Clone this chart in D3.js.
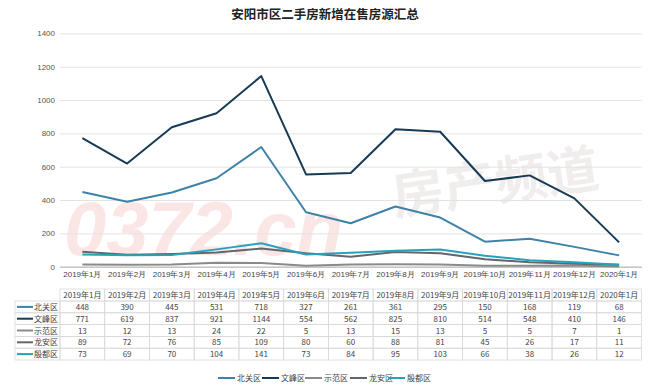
<!DOCTYPE html>
<html><head><meta charset="utf-8">
<script src="https://cdn.jsdelivr.net/npm/d3@7"></script>
<style>
html,body{margin:0;padding:0;background:#fff;}
svg{display:block;font-family:"Noto Sans CJK SC","Noto Sans",sans-serif;}
</style></head>
<body><svg id="c" width="650" height="391"></svg>
<script>
const title = "安阳市区二手房新增在售房源汇总";
const months = ["2019年1月","2019年2月","2019年3月","2019年4月","2019年5月","2019年6月","2019年7月","2019年8月","2019年9月","2019年10月","2019年11月","2019年12月","2020年1月"];
const seriesNames = ["北关区","文峰区","示范区","龙安区","殷都区"];
const beiguan = [448,390,445,531,718,327,261,361,295,150,168,119,68];
const wenfeng = [771,619,837,921,1144,554,562,825,810,514,548,410,146];
const shifan  = [13,12,13,24,22,5,13,15,13,5,5,7,1];
const longan  = [89,72,76,85,109,80,60,88,81,45,26,17,11];
const yindu   = [73,69,70,104,141,73,84,95,103,66,38,26,12];
const yTicks = [0,200,400,600,800,1000,1200,1400];
const colors = ["#3f82a8","#173a55","#8a8a8a","#62666f","#27a2bb"];

const seriesValues = [beiguan, wenfeng, shifan, longan, yindu];
const svg = d3.select("#c");

// watermark
const wm = svg.append("g");
wm.append("text").attr("x",64).attr("y",255).attr("font-size",76).attr("font-weight","bold")
  .attr("font-style","italic").attr("fill","#fbe6e6").attr("font-family","Liberation Sans, sans-serif").text("0372.cn");
wm.append("text").attr("x",395).attr("y",215).attr("font-size",52).attr("font-weight","bold")
  .attr("fill","#f1eded").attr("transform","rotate(-8,395,215)").text("房产频道");

const x = d3.scaleBand().domain(months).range([60,641.5]);
const y = d3.scaleLinear().domain([0,1400]).range([266.7,33.4]);

// title
svg.append("text").attr("x",325).attr("y",19).attr("text-anchor","middle")
  .attr("font-size",12.5).attr("font-weight","bold").attr("fill","#222").text(title);

// gridlines + y labels
const yg = svg.append("g").attr("transform","translate(60,0)")
  .call(d3.axisLeft(y).tickValues(yTicks).tickSize(-581.5).tickFormat(d3.format("d")));
yg.select(".domain").remove();
yg.selectAll(".tick line").attr("stroke","#e3e3e3");
yg.selectAll(".tick text").attr("x",-5).attr("font-size",8).attr("fill","#555").attr("font-family","Liberation Sans, sans-serif");
yg.selectAll(".tick").filter(d=>d===0).select("line").attr("stroke","#bfbfbf");

// x axis
const xg = svg.append("g").attr("transform","translate(0,266.7)")
  .call(d3.axisBottom(x).tickSize(0).tickPadding(5));
xg.select(".domain").attr("stroke","#bfbfbf");
xg.selectAll("text").attr("font-size",8).attr("fill","#444");

// lines
const line = d3.line().x((d,i)=>x(months[i])+x.bandwidth()/2).y(d=>y(d));
const drawOrder = [2,3,0,4,1];
drawOrder.forEach(k=>{
  svg.append("path").datum(seriesValues[k]).attr("d",line)
    .attr("fill","none").attr("stroke",colors[k]).attr("stroke-width",2).attr("stroke-linejoin","round");
});

// data table
const tTop = 289, hH = 12, rH = 11.8;
const tb = svg.append("g");
const bw = x.bandwidth();
const bc = "#d9d9d9";
months.forEach(m=>{
  tb.append("rect").attr("x",x(m)).attr("y",tTop).attr("width",bw).attr("height",hH)
    .attr("fill","none").attr("stroke",bc).attr("stroke-width",0.8);
  tb.append("text").attr("x",x(m)+bw/2).attr("y",tTop+hH/2+3).attr("text-anchor","middle")
    .attr("font-size",8).attr("fill","#444").text(m);
});
seriesNames.forEach((s,k)=>{
  const ry = tTop+hH+k*rH;
  tb.append("rect").attr("x",15).attr("y",ry).attr("width",45).attr("height",rH)
    .attr("fill","none").attr("stroke",bc).attr("stroke-width",0.8);
  tb.append("line").attr("x1",17).attr("x2",33).attr("y1",ry+rH/2).attr("y2",ry+rH/2)
    .attr("stroke",colors[k]).attr("stroke-width",2);
  tb.append("text").attr("x",58).attr("y",ry+rH/2+3).attr("text-anchor","end")
    .attr("font-size",8).attr("fill","#444").text(s);
  months.forEach((m,i)=>{
    tb.append("rect").attr("x",x(m)).attr("y",ry).attr("width",bw).attr("height",rH)
      .attr("fill","none").attr("stroke",bc).attr("stroke-width",0.8);
    tb.append("text").attr("x",x(m)+bw/2).attr("y",ry+rH/2+3).attr("text-anchor","middle")
      .attr("font-size",8).attr("fill","#444").text(seriesValues[k][i]);
  });
});

// legend
const lg = svg.append("g");
const legX = [218,262,305,350,388];
seriesNames.forEach((s,k)=>{
  const lx = legX[k];
  lg.append("line").attr("x1",lx).attr("x2",lx+17).attr("y1",378).attr("y2",378)
    .attr("stroke",colors[k]).attr("stroke-width",2);
  lg.append("text").attr("x",lx+19).attr("y",381).attr("font-size",8).attr("fill","#444").text(s);
});
</script></body></html>
